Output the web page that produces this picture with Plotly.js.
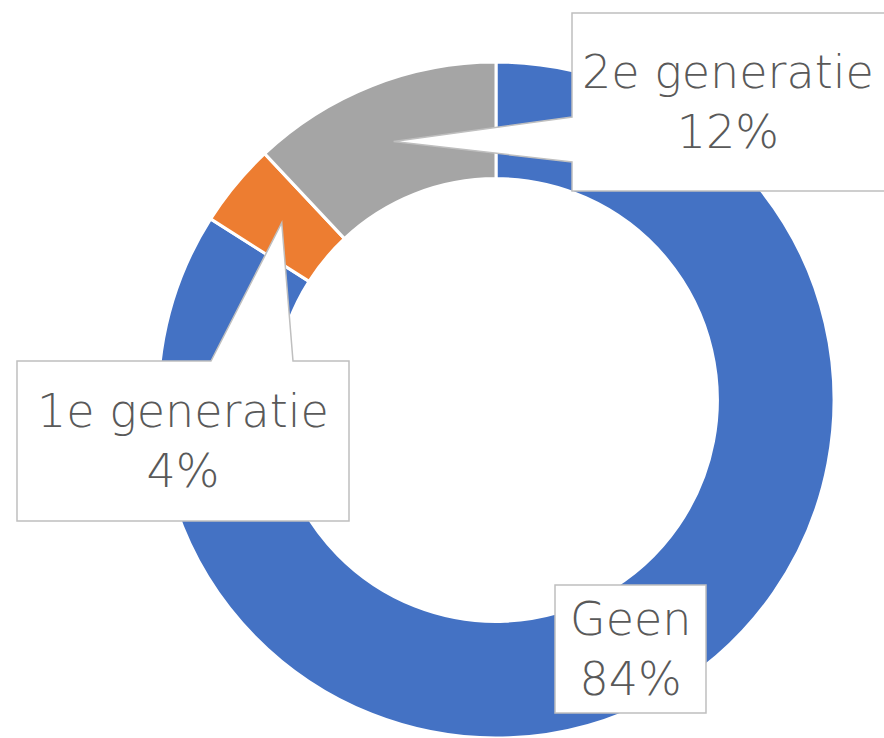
<!DOCTYPE html>
<html>
<head>
<meta charset="utf-8">
<script src="https://cdn.plot.ly/plotly-3.0.1.min.js"></script>
<style>html,body{margin:0;padding:0;background:#fff;}#chart{width:884px;height:738px;}</style>
</head>
<body>
<div id="chart"></div>
<script>
// Data
const categories = ["Geen", "1e generatie", "2e generatie"];
const values = [84, 4, 12];
const colors = ["#4472C4", "#ED7D31", "#A5A5A5"];

// Layout geometry (pixels)
const W = 884, H = 738;
const CX = 496, CY = 400, R = 336, HOLE = 0.655;
const px = x => x / W;
const py = y => 1 - y / H;

// Mid-angle of each slice (clockwise from top) -> pointer tip at mid-ring
const total = values.reduce((a, b) => a + b, 0);
let cum = 0;
const tips = values.map(v => {
  const mid = (cum + v / 2) / total * 2 * Math.PI;
  cum += v;
  const rr = R * (1 + HOLE) / 2;
  return [CX + rr * Math.sin(mid), CY - rr * Math.cos(mid)];
});

// Callout boxes [left, top, right, bottom]
const boxes = [
  [555, 585, 706, 713],
  [17, 361, 349, 521],
  [572, 13, 888, 191]
];

function P(x, y) { return px(x).toFixed(5) + "," + py(y).toFixed(5); }

// 1e generatie callout: pointer from top edge
const b1 = boxes[1], t1 = tips[1];
const path1 = "M" + P(b1[0], b1[1]) + " L" + P(211, b1[1]) + " L" + P(t1[0], t1[1]) +
  " L" + P(293, b1[1]) + " L" + P(b1[2], b1[1]) + " L" + P(b1[2], b1[3]) +
  " L" + P(b1[0], b1[3]) + " Z";
// 2e generatie callout: pointer from left edge
const b2 = boxes[2], t2 = tips[2];
const path2 = "M" + P(b2[0], b2[1]) + " L" + P(b2[2], b2[1]) + " L" + P(b2[2], b2[3]) +
  " L" + P(b2[0], b2[3]) + " L" + P(b2[0], 162) + " L" + P(t2[0], t2[1]) +
  " L" + P(b2[0], 117) + " Z";
// Geen: plain box
const b0 = boxes[0];
const path0 = "M" + P(b0[0], b0[1]) + " L" + P(b0[2], b0[1]) + " L" + P(b0[2], b0[3]) +
  " L" + P(b0[0], b0[3]) + " Z";

const border = {color: "#BFBFBF", width: 1.5};
const shapes = [path0, path1, path2].map(p => ({
  type: "path", xref: "paper", yref: "paper", path: p,
  fillcolor: "#FFFFFF", line: border, layer: "above"
}));

const font = {family: "Century Gothic, DejaVu Sans, sans-serif", size: 46, color: "#595959", weight: 300};
const annotations = categories.map((c, i) => {
  const b = boxes[i];
  const cxp = i === 2 ? (572 + 884) / 2 : (b[0] + b[2]) / 2;
  return {
    xref: "paper", yref: "paper",
    x: px(cxp), y: py((b[1] + b[3]) / 2),
    xanchor: "center", yanchor: "middle",
    text: c + "<br>" + values[i] + "%",
    showarrow: false, font: font, align: "center"
  };
});

const RD = R + 2; // domain half-size, kept inside the paper
const trace = {
  type: "pie",
  labels: categories,
  values: values,
  marker: {colors: colors, line: {color: "#FFFFFF", width: 3}},
  hole: HOLE,
  sort: false,
  direction: "clockwise",
  rotation: 0,
  textinfo: "none",
  hoverinfo: "none",
  domain: {x: [px(CX - RD), px(CX + RD)], y: [Math.max(0, py(CY + RD)), py(CY - RD)]}
};

const layout = {
  width: W, height: H,
  margin: {l: 0, r: 0, t: 0, b: 0},
  paper_bgcolor: "#FFFFFF",
  showlegend: false,
  shapes: shapes,
  annotations: annotations
};

Plotly.newPlot("chart", [trace], layout, {displayModeBar: false, staticPlot: true});
</script>
</body>
</html>
